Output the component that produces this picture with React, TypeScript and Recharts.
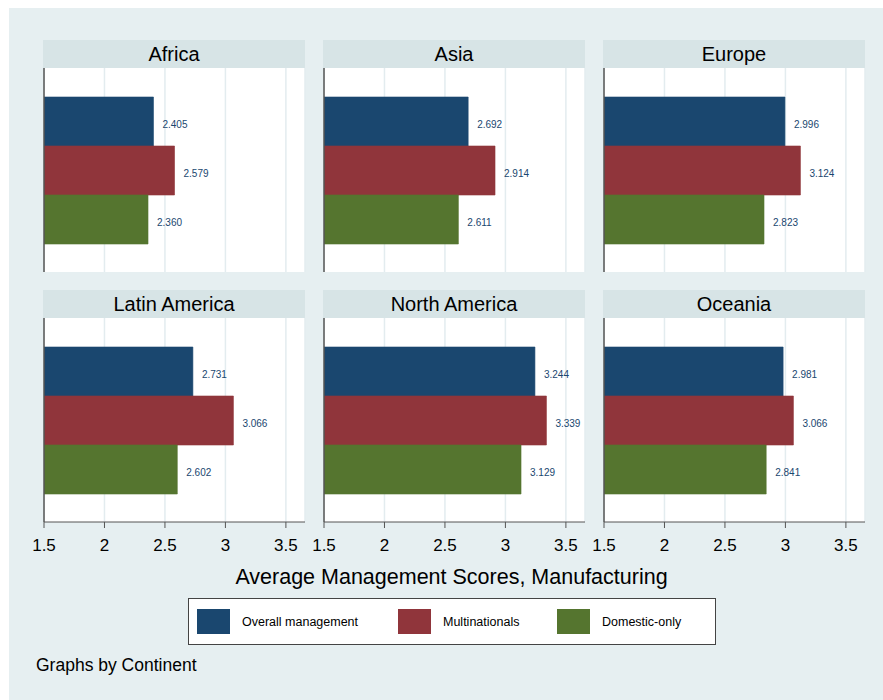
import React from "react";
import { BarChart, Bar, XAxis, YAxis, ReferenceLine, LabelList, CartesianGrid } from "recharts";

const continents = ["Africa", "Asia", "Europe", "Latin America", "North America", "Oceania"];
const overall = [2.405, 2.692, 2.996, 2.731, 3.244, 2.981];
const multinationals = [2.579, 2.914, 3.124, 3.066, 3.339, 3.066];
const domestic = [2.36, 2.611, 2.823, 2.602, 3.129, 2.841];
const xTicks = [1.5, 2, 2.5, 3, 3.5];

const series = [
  { key: "overall", name: "Overall management", color: "#1a476f" },
  { key: "multi", name: "Multinationals", color: "#90353b" },
  { key: "domestic", name: "Domestic-only", color: "#55752f" },
];

const FONT = "'Liberation Sans', Arial, Helvetica, sans-serif";
const BG = "#e6eff1";
const STRIP = "#d7e4e6";

const colX = [43, 323, 603];
const rowY = [40, 290];
const PANEL_W = 262;
const STRIP_H = 28;
const PLOT_H = 204;
const AXIS_H = 40;
const PAD = 20;

function Panel({ idx }: { idx: number }) {
  const col = idx % 3;
  const row = Math.floor(idx / 3);
  const showAxis = row === 1;
  const data = [
    {
      name: continents[idx],
      overall: overall[idx],
      multi: multinationals[idx],
      domestic: domestic[idx],
    },
  ];
  return (
    <div style={{ position: "absolute", left: colX[col], top: rowY[row], width: PANEL_W }}>
      <div
        style={{
          height: STRIP_H,
          background: STRIP,
          textAlign: "center",
          fontSize: 20,
          lineHeight: STRIP_H + "px",
          color: "#000",
        }}
      >
        {continents[idx]}
      </div>
      <div style={{ marginLeft: 1 - PAD }}>
        <BarChart
          width={PANEL_W - 1 + PAD * 2}
          height={PLOT_H + (showAxis ? AXIS_H : 0)}
          data={data}
          layout="vertical"
          margin={{ top: 0, right: PAD, bottom: 0, left: PAD }}
          barCategoryGap={29}
          barGap={0}
        >
          <CartesianGrid
            horizontal={false}
            vertical
            fill="#fff"
            stroke="#e3ecef"
            strokeWidth={1.5}
          />
          <XAxis
            type="number"
            domain={[1.5, 3.658]}
            ticks={xTicks}
            interval={0}
            allowDataOverflow
            hide={!showAxis}
            height={AXIS_H}
            tick={{ fill: "#000", fontSize: 17, fontFamily: FONT }}
            tickFormatter={(v: number) => String(v)}
            axisLine={{ stroke: "#555" }}
            tickLine={{ stroke: "#555" }}
            tickSize={6}
            tickMargin={11}
          />
          <YAxis type="category" dataKey="name" hide />
          {series.map((s) => (
            <Bar
              key={s.key}
              dataKey={s.key}
              name={s.name}
              fill={s.color}
              stroke={s.color}
              strokeOpacity={0.6}
              isAnimationActive={false}
            >
              <LabelList
                dataKey={s.key}
                position="right"
                offset={9}
                dy={3}
                fill="#1a476f"
                fontSize={10}
                fontFamily={FONT}
                formatter={(v: number) => v.toFixed(3)}
              />
            </Bar>
          ))}
          <ReferenceLine x={1.5} stroke="#555" strokeWidth={1.5} />
        </BarChart>
      </div>
    </div>
  );
}

export default function App() {
  return (
    <div
      style={{
        position: "absolute",
        left: 0,
        top: 0,
        width: 883,
        height: 700,
        background: "#fff",
        fontFamily: FONT,
        overflow: "hidden",
      }}
    >
      <div style={{ position: "absolute", left: 9, top: 8, width: 874, height: 692, background: BG }} />
      {continents.map((_, i) => (
        <Panel key={i} idx={i} />
      ))}
      <div
        style={{
          position: "absolute",
          left: 0,
          width: 903,
          top: 565,
          textAlign: "center",
          fontSize: 21.5,
          color: "#000",
        }}
      >
        Average Management Scores, Manufacturing
      </div>
      <div
        style={{
          position: "absolute",
          left: 188,
          top: 598,
          width: 526,
          height: 45,
          background: "#fff",
          border: "1px solid #444",
        }}
      >
        {series.map((s, i) => (
          <div
            key={s.key}
            style={{
              position: "absolute",
              left: [8, 209, 368][i],
              top: 10,
              display: "flex",
              alignItems: "center",
            }}
          >
            <div style={{ width: 33, height: 25, background: s.color }} />
            <span style={{ marginLeft: 12, fontSize: 12.5, color: "#000" }}>{s.name}</span>
          </div>
        ))}
      </div>
      <div style={{ position: "absolute", left: 36, top: 655, fontSize: 17.5, color: "#000" }}>
        Graphs by Continent
      </div>
    </div>
  );
}
